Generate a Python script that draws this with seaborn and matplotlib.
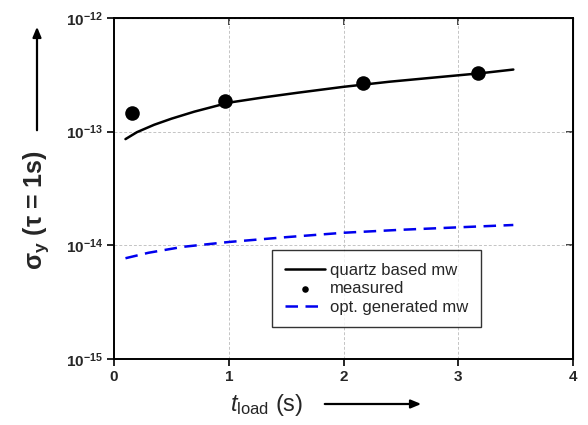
import numpy as np
import pandas as pd
import matplotlib
matplotlib.use("Agg")
import matplotlib.pyplot as plt
import seaborn as sns

# values
t_quartz = [0.1, 0.2, 0.35, 0.5, 0.7, 1.0, 1.3, 1.6, 2.0, 2.4, 2.8, 3.2, 3.48]
sigma_quartz = [8.6e-14, 9.9e-14, 1.15e-13, 1.3e-13, 1.5e-13, 1.8e-13, 2.0e-13,
                2.2e-13, 2.48e-13, 2.75e-13, 3.0e-13, 3.27e-13, 3.52e-13]

t_measured = [0.16, 0.97, 2.17, 3.17]
sigma_measured = [1.46e-13, 1.86e-13, 2.67e-13, 3.26e-13]

t_opt = [0.1, 0.3, 0.6, 1.0, 1.5, 2.0, 2.5, 3.0, 3.48]
sigma_opt = [7.7e-15, 8.6e-15, 9.7e-15, 1.07e-14, 1.18e-14, 1.29e-14, 1.37e-14, 1.44e-14, 1.51e-14]

x_ticks = [0, 1, 2, 3, 4]
y_ticks = [1e-15, 1e-14, 1e-13, 1e-12]
y_ticklabels = [r"$\mathbf{10^{-15}}$", r"$\mathbf{10^{-14}}$", r"$\mathbf{10^{-13}}$", r"$\mathbf{10^{-12}}$"]

sns.set_style("ticks")
plt.rcParams["font.family"] = ["Liberation Sans", "DejaVu Sans"]
plt.rcParams["mathtext.fontset"] = "custom"
plt.rcParams["mathtext.rm"] = "Liberation Sans"
plt.rcParams["mathtext.bf"] = "Liberation Sans:bold"
plt.rcParams["mathtext.it"] = "Liberation Sans:italic"

quartz_df = pd.DataFrame({"t": t_quartz, "sigma": sigma_quartz})
meas_df = pd.DataFrame({"t": t_measured, "sigma": sigma_measured})
opt_df = pd.DataFrame({"t": t_opt, "sigma": sigma_opt})

fig = plt.figure(figsize=(5.88, 4.25), dpi=100)
ax = fig.add_axes([114 / 588, 1 - 359 / 425, (573 - 114) / 588, (359 - 18) / 425])

sns.lineplot(data=quartz_df, x="t", y="sigma", ax=ax, color="black", linewidth=1.8,
             label="quartz based mw")
sns.scatterplot(data=meas_df, x="t", y="sigma", ax=ax, color="black", s=110,
                edgecolor="black", linewidth=0, label="measured", zorder=5)
sns.lineplot(data=opt_df, x="t", y="sigma", ax=ax, color="#0000ee", linewidth=1.8,
             linestyle=(0, (5, 3)), label="opt. generated mw")

ax.set_yscale("log")
ax.set_xlim(0, 4)
ax.set_ylim(1e-15, 1e-12)
ax.set_xticks(x_ticks)
ax.set_xticklabels([str(v) for v in x_ticks], fontweight="bold", fontsize=11)
ax.set_yticks(y_ticks)
ax.set_yticklabels(y_ticklabels, fontsize=11)
ax.yaxis.set_minor_locator(matplotlib.ticker.NullLocator())
ax.tick_params(which="major", length=5, width=1.2, direction="out", color="black", pad=3)
ax.grid(True, which="major", linestyle=(0, (3, 2)), color="#c4c4c4", linewidth=0.7)
for sp in ax.spines.values():
    sp.set_linewidth(1.4)
    sp.set_color("black")
ax.set_xlabel("")
ax.set_ylabel("")

# mirror ticks on top/right point inward
sec_x = ax.secondary_xaxis("top")
sec_x.set_xticks([1, 2, 3])
sec_x.tick_params(direction="in", length=5, width=1.2, labeltop=False)
sec_y = ax.secondary_yaxis("right")
sec_y.set_yticks([1e-14, 1e-13])
sec_y.yaxis.set_minor_locator(matplotlib.ticker.NullLocator())
sec_y.tick_params(direction="in", length=5, width=1.2, labelright=False)

leg = ax.legend(loc="upper left", bbox_to_anchor=((272 - 114) / 459, 1 - (250 - 18) / 341),
                frameon=True, fancybox=False, edgecolor="black", fontsize=12,
                handlelength=2.4, handletextpad=0.35, borderpad=0.75, labelspacing=0.22,
                markerscale=0.45, borderaxespad=0)
leg.get_frame().set_linewidth(1.0)

# axis labels with arrows
fig.text(36 / 588, 1 - 210 / 425, r"$\mathbf{\sigma_y}$ (τ = 1s)", rotation=90,
         ha="center", va="center", fontsize=18, fontweight="bold")
fig.add_artist(matplotlib.patches.FancyArrowPatch((37 / 588, 1 - 133 / 425), (37 / 588, 1 - 24 / 425),
               transform=fig.transFigure, arrowstyle="-|>,head_length=6,head_width=2.5",
               color="black", linewidth=1.6))
fig.text(267 / 588, 1 - 405 / 425, r"$t_{\mathrm{load}}$ (s)", ha="center", va="center", fontsize=17)
fig.add_artist(matplotlib.patches.FancyArrowPatch((322 / 588, 1 - 404 / 425), (424 / 588, 1 - 404 / 425),
               transform=fig.transFigure, arrowstyle="-|>,head_length=6,head_width=2.5",
               color="black", linewidth=1.6))

fig.savefig("out.png", dpi=100)
